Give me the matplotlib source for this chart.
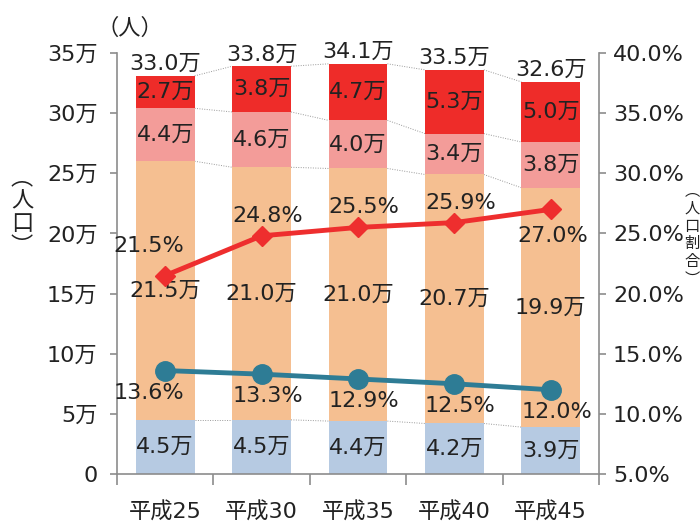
import numpy as np
import matplotlib.pyplot as plt

plt.rcParams['font.family'] = ['DejaVu Sans', 'Noto Sans CJK JP']

# data (万人 / %)
years = ['平成25', '平成30', '平成35', '平成40', '平成45']
young = [4.5, 4.5, 4.4, 4.2, 3.9]
working = [21.5, 21.0, 21.0, 20.7, 19.9]
old_a = [4.4, 4.6, 4.0, 3.4, 3.8]
old_b = [2.7, 3.8, 4.7, 5.3, 5.0]
totals = [33.0, 33.8, 34.1, 33.5, 32.6]
aged_pct = [21.5, 24.8, 25.5, 25.9, 27.0]
young_pct = [13.6, 13.3, 12.9, 12.5, 12.0]

colors = ['#B6CAE2', '#F5BF91', '#F39C99', '#EE2C29']
txt = '#222222'
gray = '#8C8C8C'
fs = 16
cjk = ['Noto Sans CJK JP', 'DejaVu Sans']

fig = plt.figure(figsize=(7, 5.3), dpi=100)
ax = fig.add_axes([117/700, 56/530, 482/700, 421/530])
ax2 = ax.twinx()

x = np.arange(len(years))
w = 0.61
series = [young, working, old_a, old_b]
bottom = np.zeros(len(years))
bounds = [bottom.copy()]
for vals, c in zip(series, colors):
    vals = np.array(vals)
    ax.bar(x, vals, w, bottom=bottom, color=c, zorder=2)
    for i in range(len(x)):
        ax.text(x[i], bottom[i] + vals[i] / 2, f'{vals[i]:.1f}万', ha='center', va='center',
                fontsize=fs, color=txt, zorder=5)
    bottom = bottom + vals
    bounds.append(bottom.copy())

# dotted connectors between bars
for b in bounds[1:]:
    for i in range(len(x) - 1):
        ax.plot([x[i] + w/2, x[i+1] - w/2], [b[i], b[i+1]], ls=(0, (1, 1.5)),
                color='#999999', lw=0.7, zorder=1)

for i in range(len(x)):
    ax.text(x[i], bottom[i] + 0.15, f'{totals[i]:.1f}万', ha='center', va='bottom',
            fontsize=fs, color=txt)

ax.set_xlim(-0.5, 4.5)
ax.set_ylim(0, 35)
ax.set_yticks(np.arange(0, 36, 5))
ax.set_yticklabels(['0'] + [f'{v}万' for v in range(5, 36, 5)])
ax.set_xticks(np.arange(-0.5, 4.6, 1))
ax.set_xticklabels([])
ax.set_xticks(x, minor=True)
ax.set_xticklabels(years, minor=True)
ax.tick_params(axis='x', which='major', length=8, color=gray, width=1.2)
ax.tick_params(axis='x', which='minor', length=0, pad=20, labelsize=fs, labelcolor=txt)
ax.tick_params(axis='y', length=5, color=gray, width=1.2, pad=9, labelsize=fs, labelcolor=txt)

ax2.plot(x, aged_pct, color='#EE2E2E', lw=3.5, marker='D', ms=10, zorder=6)
ax2.plot(x, young_pct, color='#2E7C95', lw=3.5, marker='o', ms=14, zorder=6)
ax2.set_ylim(5, 40)
ax2.set_yticks(np.arange(5, 41, 5))
ax2.set_yticklabels([f'{v:.1f}%' for v in range(5, 41, 5)])
ax2.tick_params(axis='y', length=5, color=gray, width=1.2, pad=5, labelsize=fs, labelcolor=txt)

for i in range(len(x)):
    if i == 4:
        off = (2, -27)
    elif i == 0:
        off = (-16, 30)
    else:
        off = (6, 20)
    ax2.annotate(f'{aged_pct[i]:.1f}%', (x[i], aged_pct[i]), xytext=off,
                 textcoords='offset pixels', ha='center', va='center', fontsize=fs, color=txt, zorder=7)
    dx = -16 if i == 0 else 6
    ax2.annotate(f'{young_pct[i]:.1f}%', (x[i], young_pct[i]), xytext=(dx, -22),
                 textcoords='offset pixels', ha='center', va='center', fontsize=fs, color=txt, zorder=7)

for a in (ax, ax2):
    a.spines['top'].set_visible(False)
    for s in ('left', 'right', 'bottom'):
        a.spines[s].set_color(gray)
        a.spines[s].set_linewidth(1.2)
ax.spines['right'].set_visible(False)
ax2.spines['left'].set_visible(False)
ax2.spines['bottom'].set_visible(False)

fig.text(130/700, 1 - 28/530, '（人）', ha='center', va='center', fontsize=fs, color=txt,
         family=cjk)
fig.text(22/700, 1 - 212/530, '︵\n人\n口\n︶', ha='center', va='center', fontsize=fs,
         color=txt, linespacing=1.0, family=cjk)
fig.text(692/700, 1 - 235/530, '︵\n人\n口\n割\n合\n︶', ha='center', va='center', fontsize=11,
         color=txt, linespacing=1.05, family=cjk)

fig.savefig('out.png', dpi=100)
